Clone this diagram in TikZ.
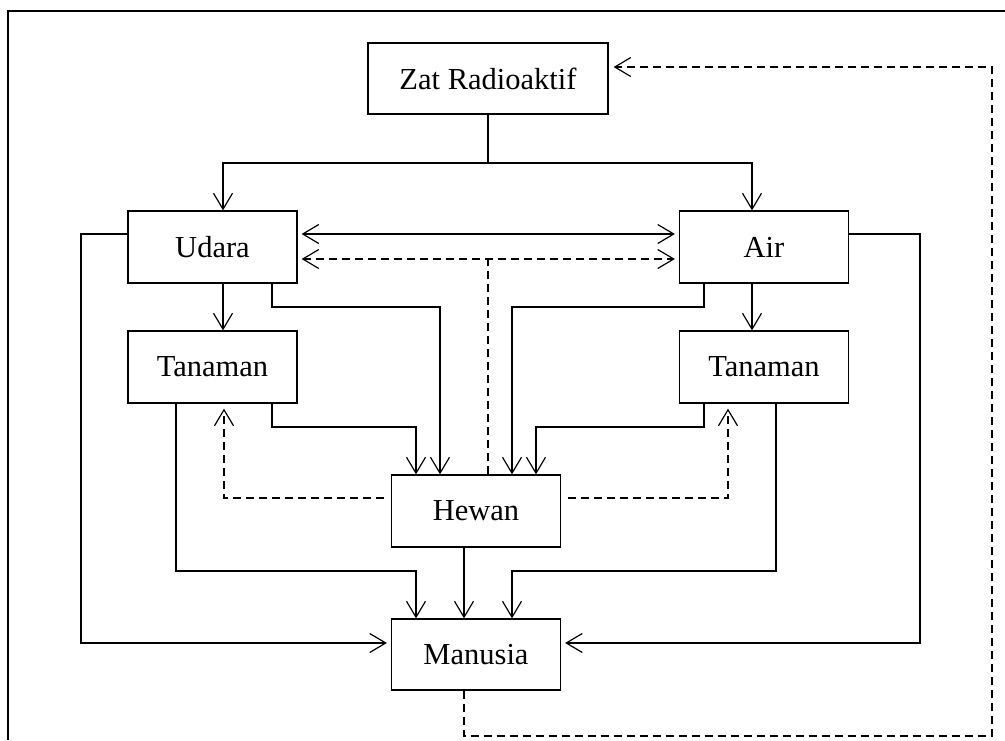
\documentclass[tikz,border=0pt]{standalone}
\usepackage{fontspec}
\setmainfont{Liberation Serif}
\usetikzlibrary{arrows.meta,calc}
\begin{document}
\begin{tikzpicture}[x=1pt,y=-1pt,line width=1.2pt,
  box/.style={draw,rectangle,inner sep=0pt,minimum width=169pt,minimum height=72pt,font=\fontsize{30.5}{36}\selectfont},
  >={Straight Barb[length=16pt,width=19pt]},
  dsh/.style={dash pattern=on 8pt off 5pt}]
\useasboundingbox (0,0) rectangle (1005,740);
% outer frame (clipped on right and bottom)
\draw (8,740) -- (8,11) -- (1005,11);
% nodes
\node[box,minimum width=240pt,minimum height=71pt] (zat) at (488,78.5) {Zat Radioaktif};
\node[box] (udara) at (212.5,247) {Udara};
\node[box] (air) at (764,247) {Air};
\node[box] (tanL) at (212.5,367) {Tanaman};
\node[box] (tanR) at (764,367) {Tanaman};
\node[box] (hewan) at (476,511) {Hewan};
\node[box,minimum height=71pt] (manusia) at (476,654.5) {Manusia};
% Zat -> Udara, Air
\draw (zat.south) -- (488,163) coordinate (zj);
\draw[->] (zj) -| ($(udara.north)+(10.5,0)$);
\draw[->] (zj) -| ($(air.north)+(-12,0)$);
% Udara -> Tanaman, Air -> Tanaman
\draw[->] ($(udara.south)+(10.5,0)$) -- ($(tanL.north)+(10.5,0)$);
\draw[->] ($(air.south)+(-12,0)$) -- ($(tanR.north)+(-12,0)$);
% Udara <-> Air
\draw[<->] ($(udara.east)+(4,-13)$) -- ($(air.west)+(-4,-13)$);
\draw[<->,dsh] ($(udara.east)+(4,12)$) -- ($(air.west)+(-4,12)$);
\draw[dsh] ($(hewan.north)+(12,0)$) -- (488,259);
% Udara, Air -> Manusia (outer)
\draw[->] ($(udara.west)+(0,-13)$) -- (81,234) -- (81,643) -- ($(manusia.west)+(-4,-11.5)$);
\draw[->] ($(air.east)+(0,-13)$) -- (920,234) -- (920,643) -- ($(manusia.east)+(4,-11.5)$);
% Udara, Air -> Hewan
\draw[->] ($(udara.south)+(59.5,0)$) -- (272,307) -| ($(hewan.north)+(-36,0)$);
\draw[->] ($(air.south)+(-60,0)$) -- (704,307) -| ($(hewan.north)+(36,0)$);
% Tanaman -> Hewan
\draw[->] ($(tanL.south)+(59.5,0)$) -- (272,427) -| ($(hewan.north)+(-60,0)$);
\draw[->] ($(tanR.south)+(-60,0)$) -- (704,427) -| ($(hewan.north)+(60,0)$);
% Tanaman -> Manusia
\draw[->] ($(tanL.south)+(-36.5,0)$) -- (176,571) -| ($(manusia.north)+(-60,0)$);
\draw[->] ($(tanR.south)+(12,0)$) -- (776,571) -| ($(manusia.north)+(36,0)$);
% Hewan -> Manusia
\draw[->] ($(hewan.south)+(-12,0)$) -- ($(manusia.north)+(-12,0)$);
% Hewan -> Tanaman (dashed)
\draw[->,dsh] ($(hewan.west)+(-7,-13)$) -- (224,498) -- ($(tanL.south)+(11.5,5)$);
\draw[->,dsh] ($(hewan.east)+(7,-13)$) -- (728,498) -- ($(tanR.south)+(-36,5)$);
% Manusia -> Zat (dashed feedback)
\draw[->,dsh] ($(manusia.south)+(-12,0)$) -- (464,736) -- (992,736) -- (992,67) -- ($(zat.east)+(5,-11.5)$);
\end{tikzpicture}
\end{document}
